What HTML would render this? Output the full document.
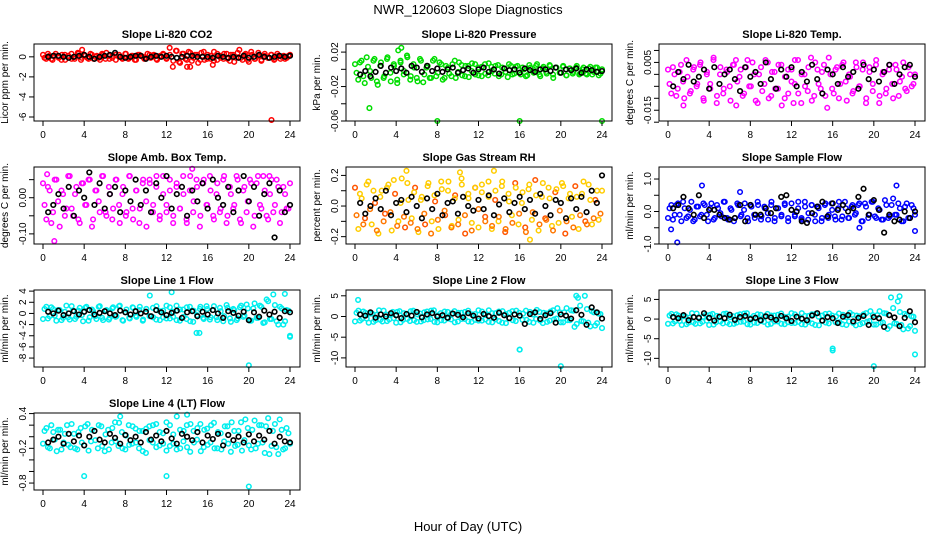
<!DOCTYPE html>
<html><head><meta charset="utf-8"><style>
body{margin:0;background:#fff;width:936px;height:540px;overflow:hidden}
svg{font-family:"Liberation Sans",sans-serif}
</style></head><body>
<svg id="c" width="936" height="540">
<text x="468" y="14" text-anchor="middle" font-size="13">NWR_120603  Slope Diagnostics</text>
<text x="468" y="531" text-anchor="middle" font-size="13">Hour of Day (UTC)</text>
</svg>
<script>
const xTicks=[0,4,8,12,16,20,24];
const titles=["Slope Li-820 CO2","Slope Li-820 Pressure","Slope Li-820 Temp.","Slope Amb. Box Temp.","Slope Gas Stream RH","Slope Sample Flow","Slope Line 1 Flow","Slope Line 2 Flow","Slope Line 3 Flow","Slope Line 4 (LT) Flow"];
const yLabels=["Licor ppm per min.","kPa per min.","degrees C per min.","degrees C per min.","percent per min.","ml/min per min.","ml/min per min.","ml/min per min.","ml/min per min.","ml/min per min."];
const yDomains=[[-6.4,1.28],[-0.06,0.0294],[-0.0195,0.0127],[-0.128,0.085],[-0.248,0.255],[-1.0,1.37],[-9.6,4.2],[-12.2,6.4],[-12.2,7.4],[-0.92,0.41]];
const yTickVals=[[0,-2,-4,-6],[0.02,0.00,-0.02,-0.04,-0.06],[0.01,0.005,0,-0.005,-0.010,-0.015,-0.02],[0.05,0,-0.05,-0.10],[0.2,0.1,0,-0.1,-0.2],[1.0,0.5,0,-0.5,-1.0],[4,2,0,-2,-4,-6,-8],[5,0,-5,-10],[5,0,-5,-10],[0.4,0.2,0,-0.2,-0.4,-0.6,-0.8]];
const yTickText=[["0","-2","-4","-6"],["0.02","","-0.02","","-0.06"],["","0.005","","","","-0.015",""],["","0.00","","-0.10"],["0.2","","0.0","","-0.2"],["1.0","","0.0","","-1.0"],["4","2","0","-2","-4","-6","-8"],["5","0","-5","-10"],["5","0","-5","-10"],["0.4","","","-0.2","","","-0.8"]];
const colors=["#ff0000","#00dd00","#ff00ff","#ff00ff","#ffcc00","#0000ff","#00eeee","#00eeee","#00eeee","#00eeee"];
// colored series A (evenly spaced over 0-24 h)
const s0=[0.2,-0.2,0.1,-0.3,0.3,-0.1,0.2,-0.3,0.1,0.3,-0.2,0.4,-0.3,0.2,-0.1,0.3,-0.2,0.1,-0.3,0.2,0.4,-0.2,0.1,-0.3,0.2,-0.1,0.3,-0.2,0.1,-0.3,0.2,0.1,-0.2,0.3,-0.1,0.2,-0.3,0.1,0.2,-0.2,0.9,-1.0,0.6,-0.5,0.3,-0.2,0.5,-0.4,0.2,-0.6,0.4,-0.3,0.2,-0.2,0.5,-0.3,0.1,-0.2,0.3,-0.4,0.2,-0.1,0.7,-0.3,0.3,-0.5,0.2,-0.2,0.4,-0.3,0.1,-0.1,0.2,-0.3,0.3,-0.2,0.1,-0.1,0.2];
const s1=[0.006,-0.012,0.01,-0.016,0.003,-0.01,0.012,-0.018,0.008,-0.008,0.014,-0.014,0.004,-0.016,0.01,-0.006,0.016,-0.012,0.006,-0.01,0.012,-0.015,0.002,-0.01,0.01,-0.008,0.008,-0.012,0.004,-0.005,0.006,-0.01,0.008,-0.007,0.004,-0.009,0.007,-0.006,0.002,-0.008,0.006,-0.007,0.003,-0.005,0.005,-0.006,0.001,-0.009,0.004,-0.005,0.004,-0.006,0,-0.007,0.002,-0.004,0.006,-0.008,0.003,-0.005,0.004,-0.01,0.002,-0.004,0.003,-0.007,0.001,-0.005,0.002,-0.006,0,-0.005,0.001,-0.006,0.002,-0.007,0];
const s2=[0.002,-0.008,0.0,-0.006,0.004,-0.01,-0.001,-0.007,0.003,-0.004,0.005,-0.011,0.001,-0.006,0.006,-0.012,0.0,-0.008,0.002,-0.005,0.004,-0.013,-0.001,-0.009,0.003,-0.005,0.005,-0.011,0.0,-0.007,0.006,-0.01,0.001,-0.006,0.004,-0.013,-0.001,-0.008,0.002,-0.004,0.006,-0.012,0.0,-0.007,0.007,-0.009,0.002,-0.006,0.004,-0.014,0.0,-0.008,0.003,-0.004,0.005,-0.011,-0.001,-0.007,0.003,-0.005,0.005,-0.01,0.001,-0.007,0.004,-0.012,0.0,-0.008,0.002,-0.004,0.004,-0.009,-0.001,-0.006,0.003,-0.005,0.0];
const s3=[0.04,-0.06,0.02,-0.04,0.05,-0.08,0.01,-0.03,0.06,-0.05,0.03,-0.07,0.04,-0.02,0.05,-0.06,0.02,-0.04,0.06,-0.05,0.01,-0.03,0.05,-0.07,0.03,-0.04,0.06,-0.06,0.02,-0.03,0.05,-0.08,0.04,-0.02,0.06,-0.05,0.01,-0.04,0.05,-0.07,0.03,-0.03,0.06,-0.06,0.02,-0.04,0.05,-0.08,0.04,-0.02,0.06,-0.05,0.01,-0.04,0.05,-0.07,0.03,-0.03,0.06,-0.06,0.02,-0.04,0.05,-0.08,0.04,-0.02,0.06,-0.05,0.01,-0.04,0.05,-0.07,0.03,-0.03,0.04];
const s4=[0.12,-0.15,0.05,-0.08,0.16,-0.12,0.02,-0.18,0.1,-0.05,0.14,-0.16,0.08,-0.1,0.18,-0.14,0.04,-0.08,0.12,-0.17,0.06,-0.12,0.15,-0.1,0.03,-0.15,0.11,-0.06,0.16,-0.13,0.07,-0.09,0.14,-0.18,0.05,-0.11,0.12,-0.14,0.09,-0.07,0.16,-0.15,0.04,-0.1,0.13,-0.17,0.08,-0.06,0.15,-0.12,0.02,-0.14,0.11,-0.09,0.17,-0.16,0.06,-0.08,0.12,-0.13,0.09,-0.11,0.15,-0.18,0.05,-0.07,0.13,-0.15,0.08,-0.1,0.14,-0.12,0.04,-0.09,0.1];
const s5=[-0.2,0.2,-0.1,0.25,-0.3,0.1,-0.15,0.3,-0.25,0.15,-0.1,0.2,-0.3,0.25,-0.2,0.1,-0.15,0.3,-0.25,0.05,-0.2,0.2,-0.1,0.25,-0.3,0.15,-0.2,0.2,-0.15,0.1,-0.25,0.3,-0.2,0.1,-0.1,0.2,-0.3,0.25,-0.15,0.1,-0.2,0.3,-0.25,0.2,-0.1,0.15,-0.3,0.2,-0.2,0.25,-0.15,0.1,-0.25,0.3,-0.2,0.15,-0.1,0.2,-0.3,0.25,-0.2,0.3,-0.15,0.1,-0.25,0.35,-0.2,0.2,-0.1,0.25,-0.3,0.15,-0.2,0.2,-0.1];
const s6=[-1.0,1.2,-0.5,0.8,-1.3,0.6,-0.8,1.4,-1.1,0.5,-0.6,1.0,-1.4,1.2,-0.7,0.4,-1.0,1.3,-1.2,0.6,-0.8,1.1,-0.5,1.4,-1.3,0.7,-0.9,1.0,-0.6,1.2,-1.1,0.8,3.2,-0.7,1.3,-1.2,0.5,-0.9,1.1,-0.6,1.4,-1.3,0.7,-1.0,1.2,-1.5,-3.5,0.8,-0.8,1.3,-1.1,0.6,-0.7,1.0,-1.4,1.5,-0.9,0.8,-1.2,1.1,-0.6,1.6,-1.3,0.9,-0.8,1.4,-1.7,2.5,-1.0,3.4,-1.4,1.2,-2.0,0.6,-4.0];
const s7=[-1.2,1.4,-0.6,0.9,-1.5,0.7,-0.9,1.5,-1.2,0.5,-0.7,1.1,-1.5,1.3,-0.8,0.5,-1.1,1.4,-1.3,0.7,-0.9,1.2,-0.6,1.5,-1.4,0.8,-1.0,1.1,-0.7,1.3,-1.2,0.9,-0.6,1.4,-1.3,0.6,-1.0,1.2,-0.7,1.5,-1.4,0.8,-1.1,1.3,-1.6,0.9,-0.9,1.4,-8.0,0.7,-0.8,1.1,-1.5,1.6,-1.0,0.9,-1.3,1.2,-0.7,2.0,-1.4,1.0,-0.9,1.5,-2.5,4.5,-1.1,5.0,-1.5,1.3,-2.2,0.7,-2.8];
const s8=[-1.2,1.3,-0.6,0.9,-1.5,0.7,-0.9,1.5,-1.2,0.5,-0.7,1.1,-1.5,1.3,-0.8,0.5,-1.1,1.4,-1.3,0.7,-0.9,1.2,-0.6,1.5,-1.4,0.8,-1.0,1.1,-0.7,1.3,-1.2,0.9,-0.6,1.4,-1.3,0.6,-1.0,1.2,-0.7,1.5,-1.4,0.8,-1.1,1.3,-1.6,0.9,-0.9,1.4,-7.5,0.7,-0.8,1.1,-1.5,1.6,-1.0,0.9,-1.3,1.2,-0.7,2.0,-1.4,1.0,-0.9,1.5,-2.5,5.5,-1.1,4.5,-1.5,1.3,-2.4,0.7,-3.0];
const s9=[-0.12,0.15,-0.2,0.08,-0.25,0.12,-0.1,0.2,-0.18,0.05,-0.22,0.15,-0.15,0.22,-0.08,0.1,-0.2,0.18,-0.25,0.12,-0.1,0.25,-0.16,0.08,-0.22,0.2,-0.12,0.14,-0.2,0.1,-0.28,0.18,-0.1,0.22,-0.15,0.06,-0.24,0.2,-0.12,0.35,-0.2,0.1,-0.18,0.22,-0.1,0.15,-0.25,0.12,-0.14,0.2,-0.2,0.08,-0.22,0.18,-0.12,0.25,-0.16,0.1,-0.24,0.3,-0.15,0.12,-0.2,0.2,-0.1,0.18,-0.3,0.1,-0.18,0.3,-0.22,0.15,-0.12];
// colored series B (interleaved readings, evenly spaced 0.15-23.85 h)
const t0=[-0.1,0.3,-0.2,0.1,0,-0.3,0.2,0.1,-0.2,0,0.3,-0.1,0.1,-0.2,0.2,0,-0.1,0.3,-0.2,0.1,-0.1,0.2,0,-0.2,0.3,-0.1,0.1,-0.3,0.2,0,-0.1,0.2,0.1,-0.2,0,0.3,-0.1,0.2,-0.4,0.6,-0.6,0.3,-0.3,0.4,-0.1,0.2,-0.3,0.5,-0.2,0.1,-0.4,0.3,-0.1,0.3,-0.2,0.2,-0.5,0.4,-0.1,0.2,-0.3,0.5,-0.2,0.1,-0.4,0.3,-0.1,0.2,-0.2,0.1,0,-0.2,0.1];
const t1=[-0.004,0.008,-0.008,0.014,-0.002,0.01,-0.014,0.004,-0.01,0.012,-0.004,0.006,-0.012,0.008,-0.002,0.014,-0.008,0.002,-0.014,0.01,-0.006,0.004,-0.01,0.012,-0.004,0.006,-0.01,0.002,-0.008,0.01,-0.003,0.005,-0.008,0.004,-0.002,0.006,-0.007,0.003,-0.005,0.007,-0.002,0.004,-0.008,0.002,-0.003,0.006,-0.006,0.003,-0.004,0.002,-0.008,0.005,-0.002,0.004,-0.006,0.001,-0.003,0.005,-0.006,0.002,-0.004,0.004,-0.007,0.001,-0.003,0.004,-0.005,0.002,-0.006,0.003,-0.003,0.002,-0.005];
const t2=[-0.004,0.003,-0.009,0.001,-0.003,0.006,-0.008,0.002,-0.005,0.004,-0.01,0.0,-0.004,0.007,-0.009,0.003,-0.006,0.001,-0.011,0.004,-0.003,0.002,-0.008,0.006,-0.005,0.0,-0.012,0.003,-0.004,0.005,-0.009,0.001,-0.006,0.004,-0.01,0.002,-0.003,0.006,-0.008,0.0,-0.005,0.003,-0.011,0.005,-0.004,0.001,-0.009,0.007,-0.006,0.002,-0.01,0.004,-0.003,0.0,-0.008,0.005,-0.005,0.002,-0.012,0.003,-0.004,0.006,-0.009,0.001,-0.006,0.004,-0.01,0.002,-0.003,0.005,-0.007,0.0,-0.004];
const t3=[-0.02,0.03,-0.07,0.05,-0.01,0.02,-0.05,0.06,-0.03,0.01,-0.06,0.04,-0.02,0.05,-0.08,0.02,-0.01,0.06,-0.04,0.03,-0.06,0.05,-0.02,0.01,-0.05,0.06,-0.03,0.02,-0.07,0.04,-0.01,0.05,-0.04,0.03,-0.06,0.06,-0.02,0.02,-0.05,0.04,-0.03,0.01,-0.07,0.06,-0.01,0.03,-0.05,0.05,-0.02,0.02,-0.06,0.04,-0.03,0.06,-0.05,0.01,-0.02,0.05,-0.07,0.03,-0.01,0.04,-0.05,0.06,-0.03,0.02,-0.06,0.05,-0.02,0.03,-0.04,0.01,-0.03];
const t4=[-0.06,0.08,-0.12,0.14,-0.02,0.1,-0.16,0.06,-0.1,0.12,-0.04,0.17,-0.13,0.02,-0.07,0.15,-0.11,0.09,-0.15,0.04,-0.05,0.13,-0.18,0.07,-0.09,0.16,-0.03,0.1,-0.14,0.05,-0.12,0.18,-0.06,0.08,-0.16,0.12,-0.02,0.14,-0.1,0.06,-0.13,0.1,-0.07,0.16,-0.15,0.03,-0.11,0.12,-0.05,0.09,-0.17,0.14,-0.04,0.07,-0.12,0.15,-0.09,0.05,-0.16,0.11,-0.03,0.13,-0.1,0.08,-0.14,0.06,-0.06,0.16,-0.12,0.04,-0.08,0.1,-0.05];
const t5=[0.1,-0.25,0.2,-0.1,0.3,-0.2,0.05,-0.3,0.15,-0.15,0.25,-0.1,0.1,-0.25,0.2,-0.05,0.3,-0.2,0.1,-0.3,0.25,-0.15,0.05,-0.2,0.2,-0.1,0.3,-0.25,0.15,-0.05,0.2,-0.3,0.1,-0.15,0.25,-0.2,0.05,-0.1,0.3,-0.25,0.15,-0.05,0.2,-0.3,0.1,-0.2,0.25,-0.1,0.05,-0.25,0.3,-0.15,0.1,-0.2,0.2,-0.05,0.25,-0.3,0.15,-0.1,0.3,-0.2,0.05,-0.25,0.2,-0.15,0.4,-0.1,0.1,-0.3,0.25,-0.2,0.1];
const t6=[0.8,-0.9,1.1,-0.4,0.6,-1.2,0.3,-0.7,1.3,-1.0,0.5,-0.3,1.0,-1.3,0.7,-0.5,1.2,-0.8,0.4,-1.1,0.9,-0.6,1.3,-1.2,0.2,-0.8,1.1,-0.4,0.6,-1.3,0.8,-0.5,1.0,-1.1,0.4,-0.7,1.4,-0.9,0.3,-1.2,0.7,-0.6,1.1,-1.4,0.5,-0.3,1.2,-1.0,0.8,-0.7,1.3,-1.2,0.4,-0.5,1.0,-1.5,0.6,-0.9,1.4,-0.4,0.9,-1.3,1.8,-0.8,1.2,-1.6,2.2,-1.0,1.5,-2.0,0.9,-1.4,0.5];
const t7=[0.9,-1.0,1.2,-0.5,0.7,-1.3,0.4,-0.8,1.4,-1.1,0.6,-0.4,1.1,-1.4,0.8,-0.6,1.3,-0.9,0.5,-1.2,1.0,-0.7,1.4,-1.3,0.3,-0.9,1.2,-0.5,0.7,-1.4,0.9,-0.6,1.1,-1.2,0.5,-0.8,1.5,-1.0,0.4,-1.3,0.8,-0.7,1.2,-1.5,0.6,-0.4,1.3,-1.1,0.9,-0.8,1.4,-1.3,0.5,-0.6,1.1,-1.6,0.7,-1.0,1.5,-0.5,1.0,-1.4,2.0,-0.9,1.4,-1.8,2.6,-1.2,1.8,-2.4,1.0,-1.6,0.6];
const t8=[0.9,-1.1,1.2,-0.5,0.7,-1.3,0.4,-0.8,1.4,-1.1,0.6,-0.4,1.1,-1.4,0.8,-0.6,1.3,-0.9,0.5,-1.2,1.0,-0.7,1.4,-1.3,0.3,-0.9,1.2,-0.5,0.7,-1.4,0.9,-0.6,1.1,-1.2,0.5,-0.8,1.5,-1.0,0.4,-1.3,0.8,-0.7,1.2,-1.5,0.6,-0.4,1.3,-1.1,0.9,-0.8,1.4,-1.3,0.5,-0.6,1.1,-1.6,0.7,-1.0,1.5,-0.5,1.0,-1.4,2.0,-0.9,1.4,-1.8,2.8,-1.2,1.8,-2.6,1.0,-1.8,0.6];
const t9=[0.1,-0.18,0.2,-0.05,0.12,-0.22,0.05,-0.14,0.22,-0.2,0.08,-0.1,0.18,-0.24,0.12,-0.06,0.2,-0.16,0.04,-0.22,0.15,-0.08,0.24,-0.2,0.02,-0.14,0.18,-0.1,0.1,-0.25,0.14,-0.06,0.2,-0.18,0.08,-0.12,0.25,-0.16,0.04,-0.22,0.12,-0.08,0.2,-0.26,0.1,-0.05,0.22,-0.18,0.14,-0.1,0.24,-0.2,0.06,-0.08,0.18,-0.26,0.1,-0.14,0.25,-0.06,0.15,-0.22,0.28,-0.12,0.2,-0.28,0.32,-0.16,0.22,-0.3,0.12,-0.2,0.06];
const series=[s0,s1,s2,s3,s4,s5,s6,s7,s8,s9];
const series2=[t0,t1,t2,t3,t4,t5,t6,t7,t8,t9];
// outliers: hours and values per panel
const outH=[[14,14.3,22.2,3.8,16.5],[4.5,4.2,1.4,8,16,24],[1.5,12.2,6.6],[0.4,1.1,14.5,22],[5,10.2,13.5,17],[0.3,0.9,3.3,7,18.6,22.2,24],[12.5,15.2,20,23.5,24],[0.3,20,16,21.5],[20,16,22.5,24],[4,12,20,7.5,14]];
const outV=[[-1.0,-1.0,-6.3,0.7,-0.8],[0.025,0.022,-0.045,-0.06,-0.06,-0.06],[-0.013,-0.012,0.006],[0.065,-0.12,0.08,0.06],[0.23,0.22,0.23,-0.22],[-0.55,-0.95,0.8,0.6,-0.5,0.8,-0.6],[3.8,-3.5,-9.3,3.5,-4.2],[4,-12,-8,5],[-12,-8,5.8,-9],[-0.68,-0.68,-0.86,0.35,0.38]];
// black hourly-mean series (evenly spaced over 0.5-24 h)
const b0=[0,0.1,0.1,0,-0.1,0,0.1,0.2,0,-0.2,0,0.1,0.2,0.4,0,-0.1,0,0.1,0.1,-0.2,0,0.1,0,0.1,0,-0.1,0,0.1,0.1,0,0,0,-0.1,0.1,0,-0.1,0,-0.1,0.1,-0.1,0,0.2,0,-0.1,0,0.1,0,0.1];
const b1=[-0.006,-0.002,-0.008,-0.003,0.004,-0.004,0.002,-0.002,0.001,-0.004,0.004,0.002,-0.003,0.004,-0.002,0.001,-0.003,0.0,0.002,-0.004,-0.001,0.001,-0.004,0.0,0.002,-0.003,0.0,-0.005,0.001,-0.001,0.0,-0.004,0.001,-0.001,-0.003,0.0,0.0,-0.002,0.002,-0.004,0.0,-0.001,0.001,-0.004,0.0,-0.001,-0.003,-0.002];
const b2=[-0.005,0.001,-0.002,0.004,-0.003,-0.001,0.002,-0.006,0.003,-0.004,0,0.002,-0.002,-0.007,0.003,-0.001,0.001,-0.004,0.005,-0.002,-0.006,0.002,-0.001,0.003,-0.005,0.001,-0.003,0.004,-0.002,-0.008,0.002,0,-0.004,0.003,-0.001,0.001,-0.006,0.004,-0.002,0.002,-0.003,0.001,0.004,-0.004,0,0.003,0.004,-0.001];
const b3=[-0.04,-0.02,0.01,-0.03,0.03,-0.05,0.02,0,0.07,-0.02,0.04,-0.03,0.01,0.03,-0.04,0.02,-0.01,0.05,-0.02,0.02,-0.04,0.04,0,0.06,-0.03,0.01,0.03,-0.05,0.02,-0.01,0.04,-0.03,0.05,0,-0.02,0.03,-0.04,0.02,0.06,-0.01,0.03,-0.05,0.01,0.04,-0.11,0.02,-0.04,-0.02];
const b4=[0.02,-0.05,0,0.05,-0.02,0.1,-0.06,0.02,0.04,-0.04,0.06,0,-0.08,0.05,-0.02,0.08,-0.06,0.02,0.03,-0.05,0.06,0,-0.03,0.04,-0.02,0.07,-0.06,0.01,0.05,-0.04,0.02,0.06,-0.02,0.04,-0.05,0.08,0,-0.06,0.04,0.02,-0.08,0.05,-0.02,0.06,-0.04,0.1,0.02,0.2];
const b5=[0.1,0.2,0.45,0.1,-0.1,0.5,-0.2,0.05,0.05,-0.1,-0.2,-0.25,-0.2,0.2,-0.3,0.2,-0.1,-0.1,0.1,-0.05,0.1,0.45,0.5,0.05,0,-0.3,-0.35,-0.05,0.15,0.3,-0.15,0.25,0.05,0.2,0,0.1,0.45,0.7,-0.1,0.35,0.05,-0.65,-0.1,-0.3,-0.25,0,-0.2,0];
const b6=[0.3,0,0.5,-0.3,0,0.4,-0.2,0.3,0.6,-0.2,0.1,0.4,0,-0.3,0.5,0.2,-0.2,0.4,0,0.3,-0.5,0.6,0.2,-0.3,0.1,0.5,-0.8,0.2,0.4,-0.5,0.3,-0.2,0.6,0,-0.8,0.4,0.1,-0.4,0.3,-1.2,0.2,-0.6,0.5,-0.2,0.3,-0.8,0.4,0.2];
const b7=[0.5,0.2,1.0,-0.3,0.5,0,0.8,0.3,-0.4,0.6,0.2,1.1,-0.2,0.5,0.8,0,0.3,-0.3,0.7,0.4,-0.2,0.8,0.2,-0.5,0.6,0.1,-0.3,0.9,0.3,-0.4,0.5,0.2,-1.8,0.6,1.0,-0.6,0.3,0.8,-1.5,0.5,0.2,-0.5,1.5,0.4,-2.0,2.2,1.0,-0.5];
const b8=[0.5,0.2,1.0,-0.3,0.5,0.3,1.5,0.3,-0.4,0.6,0.2,1.1,-0.2,0.5,0.8,0,0.3,-0.3,0.7,0.4,-0.2,0.8,0.2,-0.5,0.6,0.1,-0.3,0.9,1.5,-0.4,0.5,0.2,-1.0,0.6,1.0,-0.6,0.3,0.8,-1.5,0.5,0.2,-2.0,1.0,0.4,-1.8,0.3,2.0,-0.8];
const b9=[-0.1,-0.05,0,-0.12,0.05,-0.08,0.02,-0.15,0,0.1,-0.05,-0.1,0.05,-0.02,-0.12,0.03,-0.06,0,-0.1,0.08,-0.05,0.02,-0.08,0.1,-0.03,-0.12,0.05,0,-0.06,0.08,-0.1,0.02,-0.04,0.05,-0.15,0.03,-0.06,0,-0.1,0.04,-0.08,0.02,-0.05,0.1,-0.12,0,-0.08,-0.1];
const blacks=[b0,b1,b2,b3,b4,b5,b6,b7,b8,b9];

const svg=document.getElementById('c');
const NS="http://www.w3.org/2000/svg";
function mk(tag,attrs,parent){const e=document.createElementNS(NS,tag);for(const k in attrs)e.setAttribute(k,attrs[k]);(parent||svg).appendChild(e);return e;}
const colX=[34,346,659],rowY=[44,167,290,413],W=266,H=77;
for(let p=0;p<10;p++){
  const c=p%3,r=Math.floor(p/3);
  const L=colX[c],T=rowY[r],R=L+W,B=T+H;
  const g=mk('g',{});
  
  
  const xs=h=>L+9+h*(W-19)/24;
  const [y0,y1]=yDomains[p];
  const ys=v=>B-(v-y0)/(y1-y0)*H;
  const t=mk('text',{x:(L+R)/2,y:T-6,'text-anchor':'middle','font-size':11,'font-weight':'bold'},g);
  t.textContent=titles[p];
  
  
  const yl=mk('text',{x:0,y:0,'text-anchor':'middle','font-size':10,transform:`translate(${L-26},${(T+B)/2}) rotate(-90)`},g);
  yl.textContent=yLabels[p];
  
  
  const col=colors[p],s=series[p],s2=series2[p];
  s.forEach((v,i)=>{
    const cc=mk('circle',{cx:xs(i*24/(s.length-1)),cy:ys(v),r:2.3,fill:'none',stroke:(p==4&&i%3==0)?'#ff5500':col,'stroke-width':1.5},g);
    
    
  });
  s2.forEach((v,i)=>{
    const cc=mk('circle',{cx:xs(0.15+i*23.7/(s2.length-1)),cy:ys(v),r:2.3,fill:'none',stroke:(p==4&&i%2==0)?'#ff7700':col,'stroke-width':1.5},g);
    
    
  });
  outH[p].forEach((h,i)=>{
    const cc=mk('circle',{cx:xs(h),cy:ys(outV[p][i]),r:2.3,fill:'none',stroke:col,'stroke-width':1.5},g);
    
    
  });
  const b=blacks[p];
  b.forEach((v,i)=>{
    const cc=mk('circle',{cx:xs(0.5+i*23.5/(b.length-1)),cy:ys(v),r:2.3,fill:'none',stroke:'#000','stroke-width':1.6},g);
    
    
  });
  const box=mk('rect',{x:L,y:T,width:W,height:H,fill:'none',stroke:'#000','stroke-width':1},g);
  
  
  xTicks.forEach(h=>{
    mk('line',{x1:xs(h),x2:xs(h),y1:B,y2:B+5,stroke:'#000'},g);
    const tx=mk('text',{x:xs(h),y:B+17,'text-anchor':'middle','font-size':10},g);
    tx.textContent=h;
    
    
  });
  yTickVals[p].forEach((v,i)=>{
    mk('line',{x1:L-5,x2:L,y1:ys(v),y2:ys(v),stroke:'#000'},g);
    const tx=mk('text',{x:0,y:0,'text-anchor':'middle','font-size':10,transform:`translate(${L-8},${ys(v)}) rotate(-90)`},g);
    tx.textContent=yTickText[p][i];
    
    
  });
}
</script>
</body></html>
